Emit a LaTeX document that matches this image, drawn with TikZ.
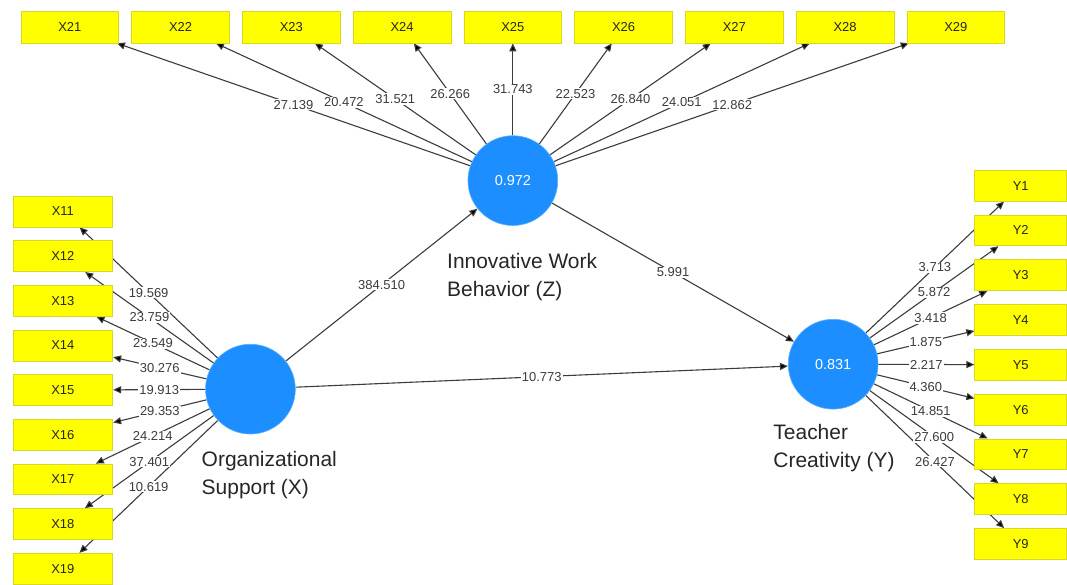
\documentclass[tikz,border=0pt]{standalone}
\usepackage{fontspec}
\setmainfont{Liberation Sans}
\usetikzlibrary{arrows.meta}
\definecolor{plsblue}{RGB}{28,142,255}
\definecolor{boxyel}{RGB}{255,255,0}
\definecolor{boxedge}{RGB}{215,215,40}
\definecolor{linegray}{RGB}{60,60,60}
\definecolor{labgray}{RGB}{60,60,60}
\pgfdeclarelayer{back}
\pgfdeclarelayer{lines}
\pgfdeclarelayer{labels}
\pgfsetlayers{back,lines,labels,main}
\begin{document}
\begin{tikzpicture}[x=1pt,y=-1pt,
  ind/.style={draw=boxedge, line width=0.8pt, fill=boxyel, inner sep=0pt,
    minimum width=98pt, minimum height=32pt, text=black!85,
    font=\fontsize{13}{13}\selectfont},
  indl/.style={ind, minimum width=100pt, minimum height=31pt},
  indr/.style={ind, minimum width=92pt, minimum height=31pt},
  lv/.style={circle, fill=plsblue, draw=plsblue!70, line width=0.6pt,
    minimum size=90pt, inner sep=0pt, text=white,
    font=\fontsize{14.5}{14.5}\selectfont},
  lab/.style={fill=white, inner sep=1pt, text=labgray,
    font=\fontsize{13}{13}\selectfont},
  lvname/.style={anchor=north west, align=left, inner sep=0pt, text=black!85,
    font=\fontsize{21}{28}\selectfont},
  arr/.style={draw=linegray, line width=1.1pt,
    -{Triangle[length=8pt,width=7pt,fill=black]}}
]
\begin{pgfonlayer}{back}
\useasboundingbox[fill=white] (0,0) rectangle (1067,586);
\end{pgfonlayer}

% indicator boxes
\foreach \n [count=\k from 0] in {21,...,29}
  \node[ind] (x\n) at ({70+111*\k},27) {X\n};
\foreach \n [count=\k from 0] in {11,...,19}
  \node[indl] (x\n) at (63,{212+44.75*\k}) {X\n};
\foreach \n [count=\k from 0] in {1,...,9}
  \node[indr] (y\n) at (1023,{186+44.9*\k}) {Y\n};

% latent variables
\node[lv] (z) at (514,181) {0.972};
\node[lv] (x) at (251,390) {};
\node[lv] (y) at (835,365) {0.831};

% latent variable names
\node[lvname] (zname) at (448,254) {Innovative Work\\Behavior (Z)};
\node[lvname] (xname) at (202,452) {Organizational\\Support (X)};
\node[lvname] (yname) at (775,425) {Teacher\\Creativity (Y)};

% connectors (behind the boxes)
\begin{pgfonlayer}{lines}
\foreach \n in {21,...,29}
  \draw[arr] (z) -- coordinate[midway] (m\n) (x\n);
\foreach \n in {11,...,19}
  \draw[arr] (x) -- coordinate[midway] (m\n) (x\n);
\foreach \n in {1,...,9}
  \draw[arr] (y) -- coordinate[midway] (my\n) (y\n);
\draw[arr] (x) -- coordinate[midway] (mxz) (z);
\draw[arr] (z) -- coordinate[midway] (mzy) (y);
\draw[arr] (x) -- coordinate[midway] (mxy) (y);
\end{pgfonlayer}

% labels over the lines
\begin{pgfonlayer}{labels}
\foreach \n/\v in {21/27.139,22/20.472,23/31.521,24/26.266,25/31.743,
                   26/22.523,27/26.840,28/24.051,29/12.862,
                   11/19.569,12/23.759,13/23.549,14/30.276,15/19.913,
                   16/29.353,17/24.214,18/37.401,19/10.619}
  \node[lab] at (m\n) {\v};
\foreach \n/\v in {1/3.713,2/5.872,3/3.418,4/1.875,5/2.217,
                   6/4.360,7/14.851,8/27.600,9/26.427}
  \node[lab] at (my\n) {\v};
\node[lab] at (mxz) {384.510};
\node[lab] at (mzy) {5.991};
\node[lab] at (mxy) {10.773};
\end{pgfonlayer}
\end{tikzpicture}
\end{document}
